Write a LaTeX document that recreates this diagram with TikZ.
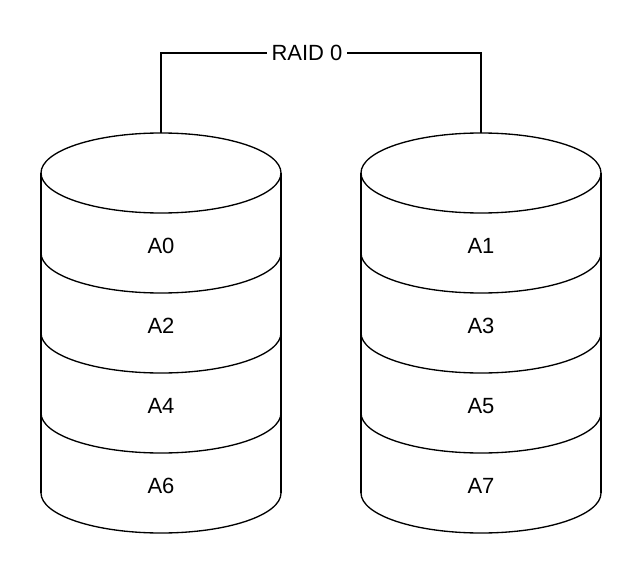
\documentclass[tikz,border=0pt]{standalone}
\usepackage{fontspec}
\setmainfont{Liberation Sans}
\usepackage{tikz}

\begin{document}
\begin{tikzpicture}[x=0.75pt, y=-0.75pt, line width=1pt,
    lbl/.style={font=\fontsize{16.5}{19}\selectfont}]
  \useasboundingbox (0, 0) rectangle (642, 574);
  \foreach \cx/\side/\first in {161/l/0, 481/r/1} {
    \draw (\cx, 173) ellipse [x radius=90pt, y radius=30pt];
    \draw (\cx-120, 173) -- (\cx-120, 493);
    \draw (\cx+120, 173) -- (\cx+120, 493);
    \foreach \k in {0,...,3} {
      \draw (\cx-120, 253+80*\k) arc [start angle=180, end angle=360, x radius=90pt, y radius=30pt];
      \pgfmathtruncatemacro\blk{2*\k+\first}
      \node[lbl] (A\blk) at (\cx, 246+80*\k) {A\blk};
    }
    \coordinate (\side top) at (\cx, 133);
  }
  \node[lbl, inner sep=3pt] (raid) at (307, 53) {RAID 0};
  \draw (ltop) |- (raid) -| (rtop);
\end{tikzpicture}
\end{document}
